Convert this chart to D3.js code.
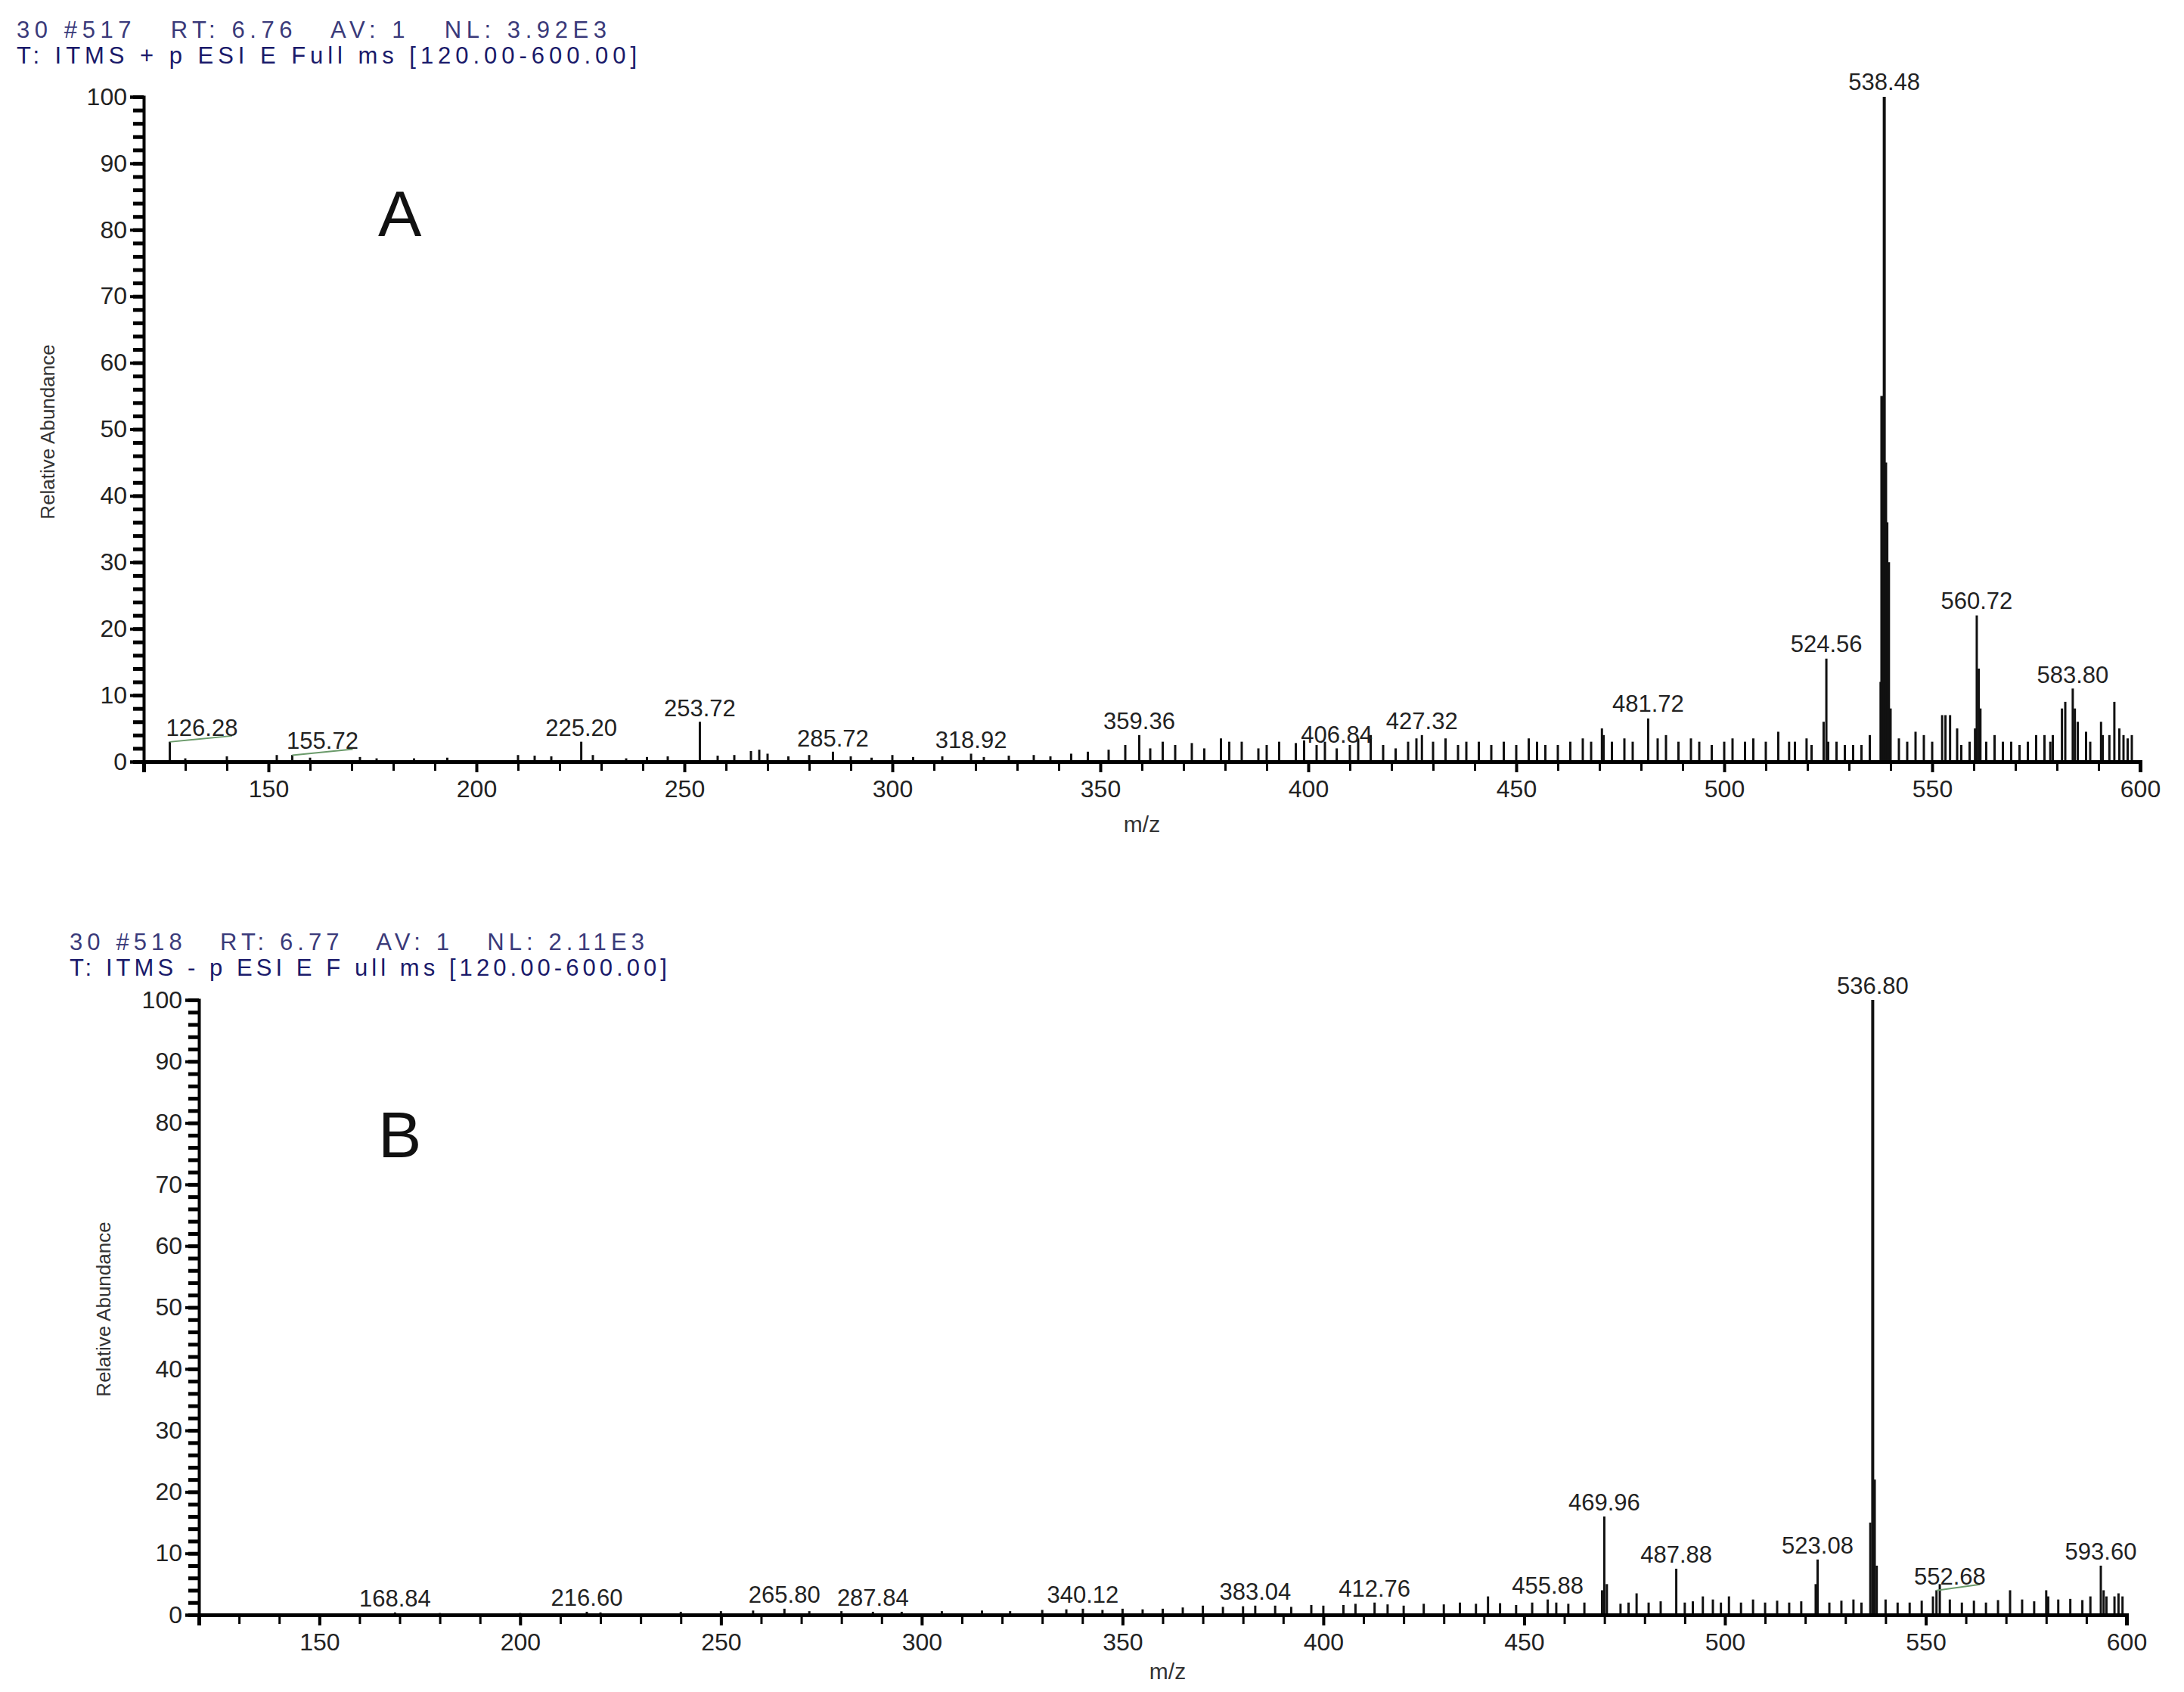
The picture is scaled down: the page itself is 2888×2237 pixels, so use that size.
<!DOCTYPE html>
<html><head><meta charset="utf-8">
<script src="https://cdn.jsdelivr.net/npm/d3@7"></script>
<style>body{margin:0;background:#fff}svg{display:block}text{font-family:Arial,"Liberation Sans",sans-serif;white-space:pre}</style>
</head><body><svg id="c" width="2888" height="2237"></svg>
<script>
// ---- Data ----
const xTicks = [150,200,250,300,350,400,450,500,550,600];
const yTicks = [0,10,20,30,40,50,60,70,80,90,100];
const headerA = ["30 #517   RT: 6.76   AV: 1   NL: 3.92E3","T: ITMS + p ESI E Full ms [120.00-600.00]"];
const headerB = ["30 #518   RT: 6.77   AV: 1   NL: 2.11E3","T: ITMS - p ESI E F ull ms [120.00-600.00]"];
// main peaks [m/z, relative abundance]
const peaksA = [[126.28,3],[155.72,1],[225.20,3],[253.72,6],[285.72,1.5],[318.92,1.2],[359.36,4],[406.84,2],[427.32,4],
 [481.72,6.5],[524.56,15.5],[523.9,6],[525.0,3],[537.6,12],[537.9,55],[538.48,100],[538.9,45],[539.2,36],[539.6,30],[540,8],
 [560.72,22],[560.3,5],[561.2,14],[561.6,8],[552.4,7],[553.2,7],[554.3,7],[581.2,8],[582,9],[583.80,11],[584.3,8],[585,6],
 [590.6,6],[593.8,9],[592.6,4],[470.6,5],[471,4],[513,4.5],[515.6,3],[519.8,3.5],[548,4],[556,5],[577,4],[578.4,3]];
const noiseA = [[130,0.5],[140,0.8],[152,1],[160,0.6],[172,0.7],[176,0.5],[185,0.5],[193,0.6],[210,1],[214,0.9],[218,0.8],[228,1],
 [236,0.5],[241,0.7],[246,0.8],[258,0.9],[262,1],[266,1.6],[268,1.8],[270,1.2],[275,0.8],[280,1],[290,0.8],[295,0.6],[300,1],
 [305,0.7],[312,0.8],[322,0.7],[328,0.9],[334,1],[338,0.8],[343,1.2],[347,1.5],[352,1.8],[356,2.5],[362,2],[365,3],[368,2.5],
 [372,2.8],[375,2],[379,3.5],[381,3],[384,3],[388,2],[390,2.5],[393,3],[397,2.8],[399,3.2],[402,2.5],[404,3],[410,2.5],[412,3.5],
 [415,4],[418,2.5],[421,2],[424,3],[426,3.5],[430,3],[433,3.5],[436,2.5],[438,3],[441,3],[444,2.5],[447,3],[450,2.5],[453,3.5],
 [455,3],[457,2.5],[460,2.5],[463,3],[466,3.5],[468,3],[473,3],[476,3.5],[478,3],[484,3.5],[486,4],[489,3],[492,3.5],[494,3],
 [497,2.5],[500,3],[502,3.5],[505,3],[507,3.5],[510,3],[517,3],[521,2.5],[527,3],[529,2.5],[531,2.5],[533,2.5],[535,4],[542,3.5],
 [544,3],[546,4.5],[550,3],[557,2.5],[559,3],[563,3],[565,4],[567,3],[569,3],[571,2.5],[573,3],[575,4],[579,4],[587,4.5],[588,3],
 [591,4],[595,5],[596,4],[597,3.5],[598,4]];
// [m/z of peak, label height, label centre m/z]
const labelsA = [[126.28,3.2,134],[155.72,1.2,163],[225.20,3.2,225.2],[253.72,6.2,253.72],[285.72,1.6,285.72],[318.92,1.4,318.92],[359.36,4.2,359.36],[406.84,2.2,406.84],[427.32,4.2,427.32],
 [481.72,6.8,481.72],[524.56,15.8,524.56],[538.48,100.3,538.48],[560.72,22.3,560.72],[583.80,11.2,583.8]];
const peaksB = [[168.84,0.4],[216.60,0.5],[265.80,1],[287.84,0.5],[340.12,1],[383.04,1.5],[412.76,2],[455.88,2.5],[441,3],
 [469.96,16],[469.4,4],[470.6,5],[478,3.5],[487.88,7.5],[494.5,3],[501,3],[522.6,5],[523.08,9],[536.2,15],[536.80,100],[537.3,22],
 [537.8,8],[552.68,4],[553.5,5],[551.8,3],[571,4],[580,4],[580.5,3],[593.60,8],[594.3,4],[595,3],[597,3]];
const noiseB = [[180,0.3],[200,0.3],[220,0.4],[240,0.5],[250,0.6],[258,0.7],[272,0.6],[280,0.6],[295,0.5],[305,0.6],[315,0.7],
 [322,0.6],[330,0.8],[336,0.9],[345,0.8],[350,1],[355,0.9],[360,1],[365,1.2],[370,1.5],[375,1.3],[380,1.4],[388,1.5],[392,1.3],
 [397,1.6],[400,1.5],[405,1.6],[408,1.8],[416,1.7],[420,1.5],[425,1.8],[430,1.7],[434,2],[438,1.8],[444,1.9],[448,1.6],[452,2],
 [458,2],[461,1.8],[465,2],[474,1.8],[476,2],[481,2],[484,2.2],[490,2],[492,2.2],[497,2.5],[499,2],[504,2],[507,2.5],[510,2],
 [513,2.3],[516,2],[519,2.2],[526,2],[529,2.3],[532,2.5],[534,2],[540,2.5],[543,2],[546,2],[549,2.3],[556,2.5],[559,2],[562,2.3],
 [565,2],[568,2.4],[574,2.5],[577,2.2],[583,2.5],[586,2.6],[589,2.4],[591,3],[598,3.5],[599,3]];
const labelsB = [[168.84,0.6,168.84],[216.60,0.7,216.6],[265.80,1.2,265.8],[287.84,0.7,287.84],[340.12,1.2,340.12],[383.04,1.7,383.04],[412.76,2.2,412.76],[455.88,2.7,455.88],
 [469.96,16.2,469.96],[487.88,7.7,487.88],[523.08,9.2,523.08],[536.80,100.2,536.8],[552.68,4.2,556],[593.60,8.2,593.6]];

const svg = d3.select("#c");

function panel(o){
  const x = d3.scaleLinear().domain([120,600]).range([o.x0,o.x1]);
  const y = d3.scaleLinear().domain([0,100]).range([o.y0,o.y1]);
  const g = svg.append("g");
  o.header.forEach((t,i)=>g.append("text").attr("x",o.hx).attr("y",o.hy+i*34).attr("font-size",31)
    .attr("textLength",i===0?o.hw[0]:o.hw[1]).attr("lengthAdjust","spacing")
    .attr("fill",i===0?"#3a3a7a":"#1a1a6a").text(t));
  g.append("text").attr("x",o.lx).attr("y",o.ly).attr("font-size",86).attr("fill","#111").text(o.letter);
  const all = o.noise.concat(o.peaks);
  g.selectAll("line.s").data(all).join("line").attr("class","s")
    .attr("x1",d=>x(d[0])).attr("x2",d=>x(d[0])).attr("y1",y(0)).attr("y2",d=>y(d[1]))
    .attr("stroke","#111").attr("stroke-width",d=>d[1]>50?4:3);
  // leader lines for offset labels
  g.selectAll("path.ld").data(o.labels.filter(d=>Math.abs(d[2]-d[0])>1)).join("path").attr("class","ld")
    .attr("d",d=>`M${x(d[0])},${y(d[1])+2}L${x(d[2])+40},${y(d[1])-6}`).attr("stroke","#6a9a6a").attr("stroke-width",2).attr("fill","none");
  g.selectAll("text.l").data(o.labels).join("text").attr("class","l")
    .attr("x",d=>x(d[2])).attr("y",d=>y(d[1])-6).attr("text-anchor","middle").attr("font-size",31).attr("fill","#222")
    .text(d=>d[0].toFixed(2));
  const xa = g.append("g").attr("transform",`translate(0,${o.y0})`)
    .call(d3.axisBottom(x).tickValues(xTicks).tickSize(14).tickPadding(10).tickFormat(d3.format("d")));
  g.append("g").attr("transform",`translate(0,${o.y0})`)
    .call(d3.axisBottom(x).tickValues(d3.range(120,601,10)).tickSize(12).tickFormat(""))
    .call(s=>s.select(".domain").remove()).selectAll("line").attr("stroke-width",3);
  xa.select(".domain").attr("stroke-width",5);
  xa.selectAll("line").attr("stroke-width",4);
  xa.selectAll("text").attr("font-size",32).attr("fill","#222");
  const ya = g.append("g").attr("transform",`translate(${o.x0},0)`)
    .call(d3.axisLeft(y).tickValues(yTicks).tickSize(18).tickPadding(4).tickFormat(d3.format("d")));
  g.append("g").attr("transform",`translate(${o.x0},0)`)
    .call(d3.axisLeft(y).tickValues(d3.range(0,101,2)).tickSize(14).tickFormat(""))
    .call(s=>s.select(".domain").remove()).selectAll("line").attr("stroke-width",5);
  ya.select(".domain").attr("stroke-width",4);
  ya.selectAll("line").attr("stroke-width",4);
  ya.selectAll("text").attr("font-size",32).attr("fill","#222");
  g.append("text").attr("transform",`translate(${o.yl[0]},${o.yl[1]}) rotate(-90)`).attr("text-anchor","middle")
    .attr("font-size",26).attr("fill","#333").text("Relative Abundance");
  g.append("text").attr("x",o.mz[0]).attr("y",o.mz[1]).attr("text-anchor","middle").attr("font-size",30).attr("fill","#333").text("m/z");
}
panel({x0:190,x1:2830,y0:1007,y1:128,header:headerA,hw:[780,820],hx:22,hy:50,letter:"A",lx:500,ly:312,peaks:peaksA,noise:noiseA,labels:labelsA,yl:[72,571],mz:[1510,1100]});
panel({x0:263,x1:2812,y0:2135,y1:1322,header:headerB,hw:[760,790],hx:92,hy:1256,letter:"B",lx:500,ly:1530,peaks:peaksB,noise:noiseB,labels:labelsB,yl:[146,1731],mz:[1544,2220]});
</script></body></html>
